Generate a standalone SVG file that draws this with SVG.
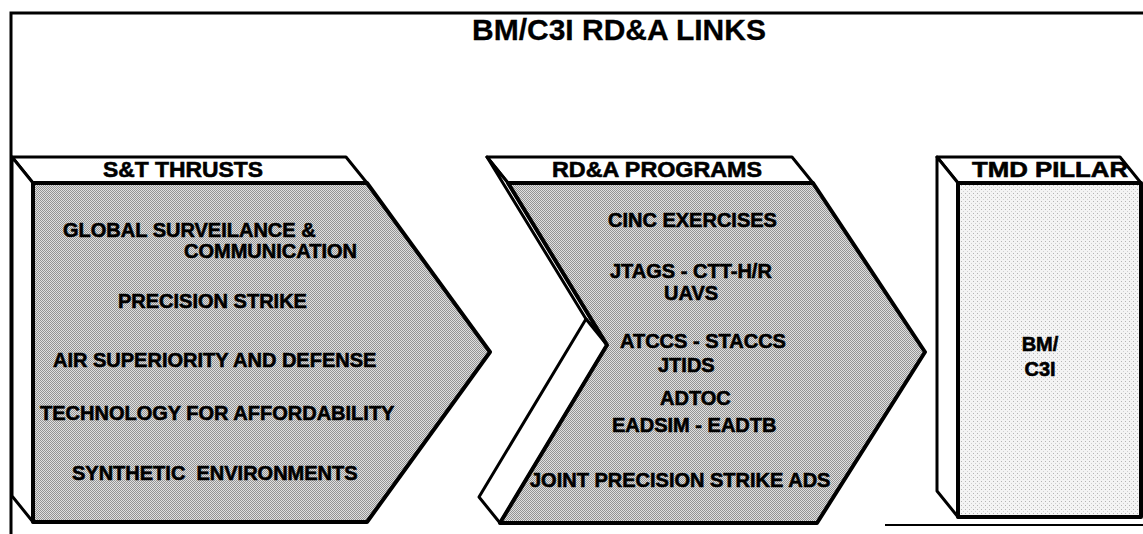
<svg xmlns="http://www.w3.org/2000/svg" width="1143" height="534" viewBox="0 0 1143 534">
<defs>
  <pattern id="dither" width="2" height="2" patternUnits="userSpaceOnUse">
    <rect width="2" height="2" fill="#e0e0e0"/>
    <rect width="1" height="1" fill="#949494"/>
    <rect x="1" y="1" width="1" height="1" fill="#949494"/>
  </pattern>
  <pattern id="speckle" width="4" height="4" patternUnits="userSpaceOnUse">
    <rect width="4" height="4" fill="#f4f4f4"/>
    <rect x="1" y="1" width="1" height="1" fill="#b4b4b4"/>
    <rect x="3" y="3" width="1" height="1" fill="#d0d0d0"/>
  </pattern>
</defs>
<style>
  .face{fill:url(#dither);stroke:#000;stroke-width:4;stroke-linejoin:round}
  .pillar{fill:url(#speckle);stroke:#000;stroke-width:4;stroke-linejoin:round}
  .side{fill:#fff;stroke:#000;stroke-width:3;stroke-linejoin:round}
  .frame{fill:none;stroke:#000;stroke-width:3}
  .t{font-family:"Liberation Sans",Arial,Helvetica,sans-serif;font-weight:bold;font-size:20px;fill:#000;stroke:#000;stroke-width:0.6}
  .h{font-size:22px}
  .title{font-size:30px;stroke-width:0.3}
</style>
<rect width="1143" height="534" fill="#fff"/>
<g id="frame">
  <path class="frame" d="M11,534 V13 H1143"/>
  <path d="M885,525 H1143" stroke="#000" stroke-width="2"/>
  <text class="t title" x="472" y="40">BM/C3I RD&amp;A LINKS</text>
</g>
<g id="st-thrusts">
  <polygon class="side" points="12,157 346,157 367,183 33,183"/>
  <polygon class="side" points="12,157 33,183 33,522 12,496"/>
  <polygon class="face" points="33,183 367,183 490,352 367,522 33,522"/>
  <text class="t h" x="103" y="177" textLength="160" lengthAdjust="spacingAndGlyphs">S&amp;T THRUSTS</text>
  <text class="t" x="63" y="237">GLOBAL SURVEILANCE &amp;</text>
  <text class="t" x="184" y="258">COMMUNICATION</text>
  <text class="t" x="118" y="308">PRECISION STRIKE</text>
  <text class="t" x="53" y="367">AIR SUPERIORITY AND DEFENSE</text>
  <text class="t" x="40" y="420">TECHNOLOGY FOR AFFORDABILITY</text>
  <text class="t" x="72" y="480" style="white-space:pre">SYNTHETIC  ENVIRONMENTS</text>
</g>
<g id="rda-programs">
  <polygon class="side" points="487,157 792,157 813,183 508,183"/>
  <polygon class="side" points="487,157 508,183 607,345 586,319"/>
  <polygon class="side" points="586,319 607,345 500,523 479,497"/>
  <polygon class="face" points="508,183 813,183 925,352 817,523 500,523 607,345"/>
  <text class="t h" x="552" y="177" textLength="210" lengthAdjust="spacingAndGlyphs">RD&amp;A PROGRAMS</text>
  <text class="t" x="608" y="227">CINC EXERCISES</text>
  <text class="t" x="610" y="278">JTAGS - CTT-H/R</text>
  <text class="t" x="664" y="300">UAVS</text>
  <text class="t" x="620" y="348">ATCCS - STACCS</text>
  <text class="t" x="658" y="372">JTIDS</text>
  <text class="t" x="660" y="405">ADTOC</text>
  <text class="t" x="612" y="432">EADSIM - EADTB</text>
  <text class="t" x="530" y="487">JOINT PRECISION STRIKE ADS</text>
</g>
<g id="tmd-pillar">
  <polygon class="side" points="937,157 1120,157 1141,183 958,183"/>
  <polygon class="side" points="937,157 958,183 958,517 937,491"/>
  <polygon class="pillar" points="958,183 1141,183 1141,517 958,517"/>
  <text class="t h" x="972" y="177" textLength="156" lengthAdjust="spacingAndGlyphs">TMD PILLAR</text>
  <text class="t" x="1040" y="351" text-anchor="middle">BM/</text>
  <text class="t" x="1040" y="376" text-anchor="middle">C3I</text>
</g>
</svg>
